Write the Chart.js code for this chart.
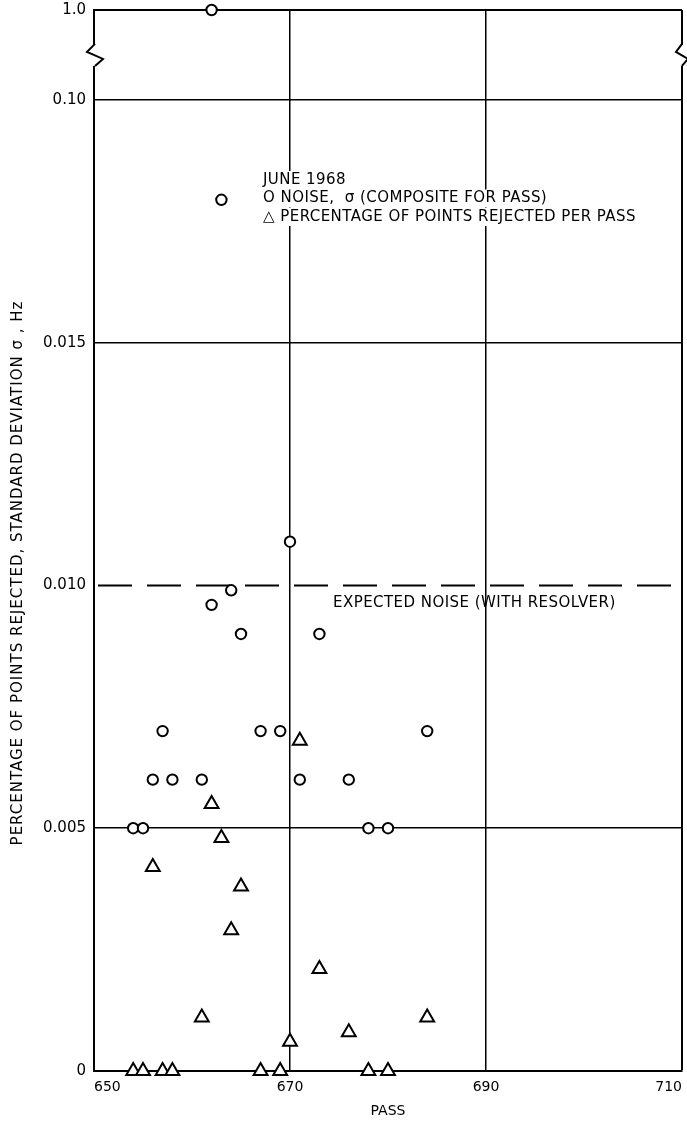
<!DOCTYPE html>
<html>
<head>
<meta charset="utf-8">
<script src="https://cdn.jsdelivr.net/npm/chart.js@4.4.1/dist/chart.umd.min.js"></script>
<style>
  html, body { margin: 0; padding: 0; background: #fff; }
  #wrap { width: 687px; height: 1121px; }
</style>
</head>
<body>
<div id="wrap"><canvas id="c" width="687" height="1121"></canvas></div>
<script>
// Noise sigma per pass, June 1968
const noisePass  = [662, 663, 670, 664, 662, 665, 673, 657, 667, 669, 684, 656, 658, 661, 671, 676, 654, 655, 678, 680];
const noiseSigma = [1.0, 0.065, 0.0109, 0.0099, 0.0096, 0.009, 0.009, 0.007, 0.007, 0.007, 0.007, 0.006, 0.006, 0.006, 0.006, 0.006, 0.005, 0.005, 0.005, 0.005];

// Percentage of points rejected per pass
const rejectPass    = [671, 662, 663, 656, 665, 664, 673, 661, 684, 676, 670, 654, 655, 657, 658, 667, 669, 678, 680];
const rejectPercent = [0.0068, 0.0055, 0.0048, 0.0042, 0.0038, 0.0029, 0.0021, 0.0011, 0.0011, 0.0008, 0.0006, 0, 0, 0, 0, 0, 0, 0, 0];

// Expected noise level with resolver
const expectedNoise = 0.010;

// Axis ticks
const passMin = 650, passMax = 710, passStep = 20;
const sigmaTicks      = [0, 0.005, 0.010, 0.015, 0.10, 1.0];
const sigmaTickLabels = ['0', '0.005', '0.010', '0.015', '0.10', '1.0'];
// where each sigma tick sits along the (broken) vertical axis, in grid steps
const sigmaTickSlots  = [0, 1, 2, 3, 4, 4.37];

function sigmaToSlot(v) {
  for (let i = 1; i < sigmaTicks.length; i++) {
    if (v <= sigmaTicks[i] || i === sigmaTicks.length - 1) {
      const t = (v - sigmaTicks[i - 1]) / (sigmaTicks[i] - sigmaTicks[i - 1]);
      return sigmaTickSlots[i - 1] + t * (sigmaTickSlots[i] - sigmaTickSlots[i - 1]);
    }
  }
  return 0;
}

// Linear scale with a piecewise (broken) value axis
class BrokenSigmaScale extends Chart.LinearScale {
  parse(raw, index) {
    const v = super.parse(raw, index);
    return v === null ? null : sigmaToSlot(v);
  }
}
BrokenSigmaScale.id = 'brokenSigma';
BrokenSigmaScale.defaults = Chart.LinearScale.defaults;
Chart.register(BrokenSigmaScale);

const FONT = 'DejaVu Sans';
Chart.defaults.font.family = FONT;
Chart.defaults.font.size = 15;
Chart.defaults.color = '#000';

const decorations = {
  id: 'decorations',
  afterDraw(chart) {
    const { ctx, chartArea: a, scales: { y } } = chart;
    ctx.save();
    ctx.fillStyle = '#000';
    ctx.strokeStyle = '#000';

    // axis break marks between 0.10 and 1.0
    const yb = (y.getPixelForValue(sigmaTickSlots[4]) + y.getPixelForValue(sigmaTickSlots[5])) / 2;
    [a.left + 1, a.right].forEach((xb, k) => {
      const w = k === 0 ? 8 : 6;
      ctx.fillStyle = '#fff';
      ctx.fillRect(xb - 3, yb - 10, 6, 21);
      ctx.beginPath();
      ctx.lineWidth = 2;
      ctx.moveTo(xb, yb - 11);
      ctx.lineTo(xb - w, yb - 3);
      ctx.lineTo(xb + w, yb + 4);
      ctx.lineTo(xb, yb + 11);
      ctx.stroke();
    });

    ctx.fillStyle = '#000';
    ctx.font = '15px "' + FONT + '"';
    ctx.textBaseline = 'middle';
    ctx.textAlign = 'left';
    ctx.letterSpacing = '0.45px';

    // expected noise label
    const yExp = y.getPixelForValue(sigmaToSlot(expectedNoise));
    ctx.fillText('EXPECTED NOISE (WITH RESOLVER)', 333, yExp + 18);

    // legend block
    const lines = ['JUNE 1968', 'O NOISE,  \u03C3 (COMPOSITE FOR PASS)', '\u25B3 PERCENTAGE OF POINTS REJECTED PER PASS'];
    const lx = 263, ly = 180, lh = 18.5;
    lines.forEach((t, i) => {
      const w = ctx.measureText(t).width;
      ctx.fillStyle = '#fff';
      ctx.fillRect(lx - 3, ly + i * lh - 9, w + 6, 18);
    });
    ctx.fillStyle = '#000';
    lines.forEach((t, i) => ctx.fillText(t, lx, ly + i * lh));

    // vertical axis title
    ctx.letterSpacing = '1px';
    ctx.translate(18, 573);
    ctx.rotate(-Math.PI / 2);
    ctx.textAlign = 'center';
    ctx.fillText('PERCENTAGE OF POINTS REJECTED, STANDARD DEVIATION \u03C3 , Hz', 0, 0);
    ctx.restore();
  }
};

new Chart(document.getElementById('c'), {
  type: 'scatter',
  data: {
    datasets: [
      {
        label: 'Noise',
        data: noisePass.map((p, i) => ({ x: p, y: noiseSigma[i] })),
        pointStyle: 'circle',
        pointRadius: 5.2,
        pointBorderWidth: 2,
        pointBorderColor: '#000',
        pointBackgroundColor: '#fff',
        clip: false
      },
      {
        label: 'Rejected',
        data: rejectPass.map((p, i) => ({ x: p, y: rejectPercent[i] })),
        pointStyle: 'triangle',
        pointRadius: 8,
        pointBorderWidth: 2,
        pointBorderColor: '#000',
        pointBackgroundColor: '#fff',
        clip: false
      },
      {
        label: 'Expected noise',
        data: [{ x: passMin, y: expectedNoise }, { x: passMax, y: expectedNoise }],
        showLine: true,
        borderColor: '#000',
        borderWidth: 2,
        borderDash: [34, 15],
        borderDashOffset: 45,
        pointRadius: 0,
        clip: false
      }
    ]
  },
  options: {
    responsive: false,
    animation: false,
    events: [],
    layout: { autoPadding: false, padding: { top: 10, right: 5, left: 0, bottom: 0 } },
    plugins: { legend: { display: false }, tooltip: { enabled: false } },
    scales: {
      x: {
        type: 'linear',
        min: passMin,
        max: passMax,
        afterFit: s => { s.height = 50; s.paddingLeft = 0; s.paddingRight = 0; },
        border: { display: true, color: '#000', width: 2 },
        grid: {
          color: '#000',
          lineWidth: c => (c.index === 3 ? 2 : 1.5),
          drawTicks: false
        },
        ticks: { stepSize: passStep, align: 'inner', padding: 8, font: { size: 14 } },
        title: { display: true, text: 'PASS', font: { size: 14 }, padding: { top: 0, bottom: 1 } }
      },
      y: {
        type: 'brokenSigma',
        min: sigmaTicks[0],
        max: sigmaTicks[sigmaTicks.length - 1],
        afterFit: s => { s.width = 94; s.paddingTop = 10; s.paddingBottom = 0; },
        afterBuildTicks: s => { s.ticks = sigmaTickSlots.map(value => ({ value })); },
        border: { display: true, color: '#000', width: 2 },
        grid: {
          color: c => (c.index === 2 ? 'rgba(0,0,0,0)' : '#000'),
          lineWidth: c => (c.index === 5 ? 2 : 1.5),
          drawTicks: false
        },
        ticks: { padding: 8, font: { size: 15 }, callback: (v, i) => sigmaTickLabels[i] }
      }
    }
  },
  plugins: [decorations]
});
</script>
</body>
</html>
